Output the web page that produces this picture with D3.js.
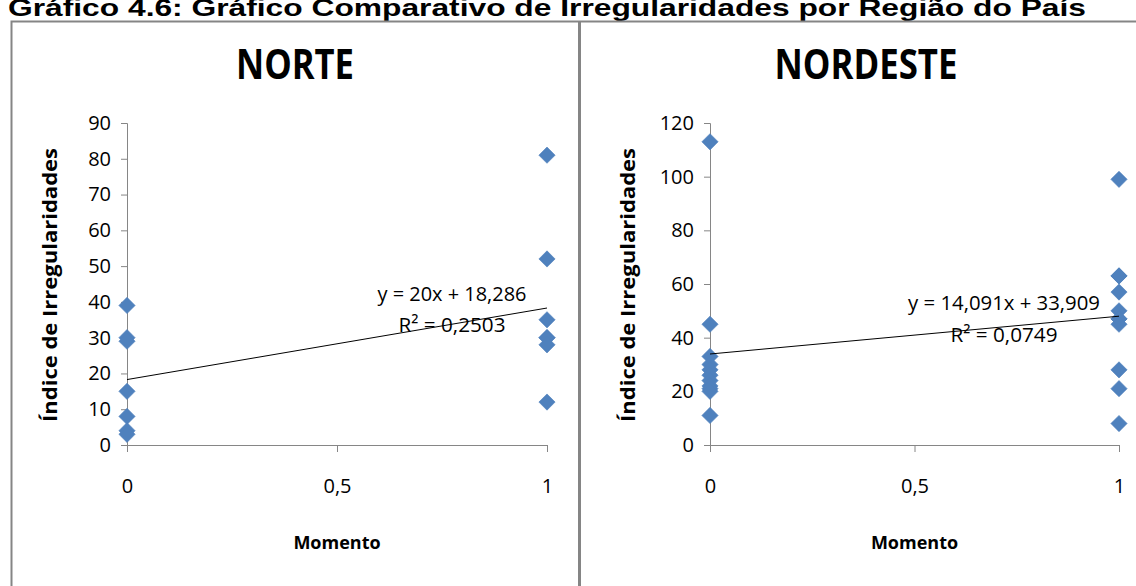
<!DOCTYPE html>
<html>
<head>
<meta charset="utf-8">
<script src="https://cdn.jsdelivr.net/npm/d3@7"></script>
<style>
  html, body { margin: 0; padding: 0; background: #fff; }
  svg { display: block; }
  text { font-family: "Open Sans", "Liberation Sans", sans-serif; fill: #000; }
</style>
</head>
<body>
<svg id="chart" width="1136" height="586"></svg>
<script>
// Chart title and panel names
const chartTitle = "Gráfico 4.6: Gráfico Comparativo de Irregularidades por Região do País";
const regions = ["NORTE", "NORDESTE"];
const xTitle = "Momento";
const yTitle = "Índice de Irregularidades";

// Momento axis ticks (0 = antes, 1 = depois)
const momentoTicks = [0, 0.5, 1];

// Irregularity index per unit, by moment
const norteMomento0 = [39, 30, 29, 15, 8, 4, 3];
const norteMomento1 = [81, 52, 35, 30, 30, 28, 12];
const nordesteMomento0 = [113, 45, 33, 30, 28, 26, 24, 22, 21, 20, 11];
const nordesteMomento1 = [99, 63, 63, 57, 50, 47, 47, 45, 28, 21, 8];

// Y axis ranges and tick steps per panel
const yMaxima = [90, 120];
const yTickSteps = [10, 20];

const ptBR = d3.formatLocale({ decimal: ",", thousands: ".", grouping: [3], currency: ["R$ ", ""] });
const fmtCoef = ptBR.format(".5~r");
const fmtR2 = ptBR.format(".4f");
const fmtTick = ptBR.format("~g");

const svg = d3.select("#chart");
svg.append("rect").attr("width", 1136).attr("height", 586).attr("fill", "#fff");

// Figure caption (its top runs past the upper edge)
svg.append("text")
  .attr("x", 8).attr("y", 16)
  .attr("textLength", 1078).attr("lengthAdjust", "spacingAndGlyphs")
  .style("font-family", "'Liberation Sans', Arial, sans-serif")
  .style("font-weight", "bold").style("font-size", "24px")
  .text(chartTitle);

// Panel frames
const frameColor = "#858585";
svg.append("path")
  .attr("d", "M11.5,600V21.5H1136")
  .attr("fill", "none").attr("stroke", frameColor).attr("stroke-width", 2);
svg.append("line")
  .attr("x1", 579.5).attr("x2", 579.5).attr("y1", 21).attr("y2", 586)
  .attr("stroke", frameColor).attr("stroke-width", 3);

function fitLine(xs, ys) {
  const mx = d3.mean(xs), my = d3.mean(ys);
  let sxy = 0, sxx = 0;
  xs.forEach((x, i) => { sxy += (x - mx) * (ys[i] - my); sxx += (x - mx) ** 2; });
  const slope = sxy / sxx, intercept = my - slope * mx;
  let ssRes = 0, ssTot = 0;
  xs.forEach((x, i) => {
    ssRes += (ys[i] - (intercept + slope * x)) ** 2;
    ssTot += (ys[i] - my) ** 2;
  });
  return { slope, intercept, r2: 1 - ssRes / ssTot };
}

const panels = [
  { name: regions[0], g0: norteMomento0, g1: norteMomento1, yMax: yMaxima[0], step: yTickSteps[0],
    cx: 295, xRange: [127, 547], yTitleX: 57, titleW: 118,
    eqX: 452, eqY: 301, r2Y: 332, eqW: 149, r2W: 107 },
  { name: regions[1], g0: nordesteMomento0, g1: nordesteMomento1, yMax: yMaxima[1], step: yTickSteps[1],
    cx: 866, xRange: [710, 1119], yTitleX: 635, titleW: 183,
    eqX: 1004, eqY: 310, r2Y: 342, eqW: 192, r2W: 107 }
];

panels.forEach(p => {
  const g = svg.append("g");
  const x = d3.scaleLinear().domain([0, 1]).range(p.xRange);
  const y = d3.scaleLinear().domain([0, p.yMax]).range([445, 123]);

  // Panel title
  g.append("text")
    .attr("x", p.cx).attr("y", 79).attr("text-anchor", "middle")
    .attr("textLength", p.titleW).attr("lengthAdjust", "spacingAndGlyphs")
    .style("font-weight", "bold").style("font-size", "42px")
    .text(p.name);

  // Y axis
  const yAxis = d3.axisLeft(y).tickValues(d3.range(0, p.yMax + 0.001, p.step))
    .tickSize(6).tickPadding(10).tickFormat(d3.format("d"));
  const ya = g.append("g").attr("transform", `translate(${x(0)},0)`).call(yAxis);
  // X axis
  const xAxis = d3.axisBottom(x).tickValues(momentoTicks)
    .tickSize(7).tickPadding(27).tickFormat(fmtTick);
  const xa = g.append("g").attr("transform", `translate(0,${y(0)})`).call(xAxis);

  [ya, xa].forEach(a => {
    a.select(".domain").attr("stroke", "#868686");
    a.selectAll(".tick line").attr("stroke", "#868686");
    a.selectAll(".tick text").style("font-size", "20px").style("font-family", "'Open Sans', sans-serif")
      .attr("fill", "#000");
  });

  // Axis titles
  g.append("text")
    .attr("x", (p.xRange[0] + p.xRange[1]) / 2).attr("y", 549).attr("text-anchor", "middle")
    .style("font-weight", "bold").style("font-size", "18px")
    .text(xTitle);
  g.append("text")
    .attr("transform", `translate(${p.yTitleX},285) rotate(-90)`).attr("text-anchor", "middle")
    .attr("textLength", 274).attr("lengthAdjust", "spacingAndGlyphs")
    .style("font-weight", "bold").style("font-size", "19px")
    .text(yTitle);

  // Data points
  const pts = p.g0.map(v => [0, v]).concat(p.g1.map(v => [1, v]));
  const diamond = d3.symbol().type(d3.symbolSquare).size(132);
  g.selectAll("path.pt").data(pts).join("path")
    .attr("class", "pt")
    .attr("d", diamond)
    .attr("transform", d => `translate(${x(d[0])},${y(d[1])}) rotate(45)`)
    .attr("fill", "#4F81BD").attr("stroke", "#4F81BD").attr("stroke-width", 0.6);

  // Linear trendline
  const fit = fitLine(pts.map(d => d[0]), pts.map(d => d[1]));
  g.append("line")
    .attr("x1", x(0)).attr("y1", y(fit.intercept))
    .attr("x2", x(1)).attr("y2", y(fit.intercept + fit.slope))
    .attr("stroke", "#000").attr("stroke-width", 1);

  g.append("text")
    .attr("x", p.eqX).attr("y", p.eqY).attr("text-anchor", "middle")
    .attr("textLength", p.eqW).attr("lengthAdjust", "spacingAndGlyphs")
    .style("font-size", "20px")
    .text(`y = ${fmtCoef(fit.slope)}x + ${fmtCoef(fit.intercept)}`);
  g.append("text")
    .attr("x", p.eqX).attr("y", p.r2Y).attr("text-anchor", "middle")
    .attr("textLength", p.r2W).attr("lengthAdjust", "spacingAndGlyphs")
    .style("font-size", "20px")
    .text(`R² = ${fmtR2(fit.r2)}`);
});
</script>
</body>
</html>
